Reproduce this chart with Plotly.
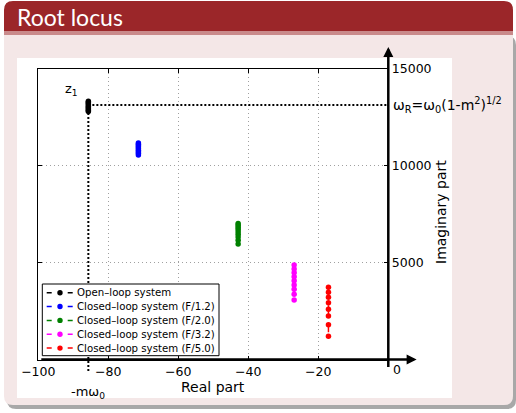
import plotly.graph_objects as go

W, H = 516, 413

# ---------------- data ----------------
series_names = ["Open\u2013loop system",
                "Closed\u2013loop system (F/1.2)",
                "Closed\u2013loop system (F/2.0)",
                "Closed\u2013loop system (F/3.2)",
                "Closed\u2013loop system (F/5.0)"]
series_colors = ["#000000", "#0000ff", "#008000", "#ff00ff", "#ff0000"]
series_real = [-85.7, -71.4, -42.9, -26.9, -17.1]
open_imag = [13330, 13265, 13200, 13135, 13070, 13005, 12940, 12875, 12810]
f12_imag = [11180, 11110, 11040, 10970, 10890, 10810, 10730, 10650, 10565]
f20_imag = [7025, 6930, 6830, 6720, 6600, 6470, 6330, 6160, 5970]
f32_imag = [4880, 4675, 4485, 4275, 4070, 3850, 3625, 3370, 3075]
f50_imag = [3730, 3470, 3215, 2935, 2595, 2245, 1800, 1200]
series_imag = [open_imag, f12_imag, f20_imag, f32_imag, f50_imag]

omega_r = 13146          # resonance line level
x_ticks = [-100, -80, -60, -40, -20]
y_ticks = [5000, 10000, 15000]
x_range = [-100, 0]
y_range = [0, 15000]

# ---------------- geometry helpers ----------------
def px(x):
    return x / W

def py(y):
    return 1 - y / H

XDOM = [px(38.3), px(388.3)]
YDOM = [py(359.5), py(69)]

def yval_to_paper(v):
    return YDOM[0] + (v - y_range[0]) / (y_range[1] - y_range[0]) * (YDOM[1] - YDOM[0])

def rrect(x0, y0, x1, y1, r, top=True, bottom=True):
    rt = r if top else 0
    rb = r if bottom else 0
    pts = []
    pts.append(f"M{px(x0 + rt)},{py(y0)}")
    pts.append(f"L{px(x1 - rt)},{py(y0)}")
    if rt:
        pts.append(f"Q{px(x1)},{py(y0)} {px(x1)},{py(y0 + rt)}")
    pts.append(f"L{px(x1)},{py(y1 - rb)}")
    if rb:
        pts.append(f"Q{px(x1)},{py(y1)} {px(x1 - rb)},{py(y1)}")
    pts.append(f"L{px(x0 + rb)},{py(y1)}")
    if rb:
        pts.append(f"Q{px(x0)},{py(y1)} {px(x0)},{py(y1 - rb)}")
    pts.append(f"L{px(x0)},{py(y0 + rt)}")
    if rt:
        pts.append(f"Q{px(x0)},{py(y0)} {px(x0 + rt)},{py(y0)}")
    pts.append("Z")
    return " ".join(pts)

FONT = "DejaVu Sans"

fig = go.Figure()

# ---------------- data traces ----------------
for name, color, xr, im in zip(series_names, series_colors, series_real, series_imag):
    fig.add_trace(go.Scatter(
        x=[xr] * len(im), y=im, mode="lines+markers", name=name,
        line=dict(color=color, width=1.5, dash="dash"),
        marker=dict(color=color, size=5.5),
        cliponaxis=False, showlegend=False))

# horizontal dotted line for omega_R
fig.add_trace(go.Scatter(
    x=[series_real[0], 0], y=[omega_r, omega_r], mode="lines",
    line=dict(color="black", width=2, dash="2px,2px"), showlegend=False))

shapes = []
# slide background
shapes.append(dict(type="path", xref="paper", yref="paper", layer="below",
                   path=rrect(7, 36, 516, 409, 9), fillcolor="#a8a8a8", line=dict(width=0)))
shapes.append(dict(type="path", xref="paper", yref="paper", layer="below",
                   path=rrect(4, 33, 513, 405, 9, top=False), fillcolor="#f4e7e7", line=dict(width=0)))
shapes.append(dict(type="path", xref="paper", yref="paper", layer="below",
                   path=rrect(4, 1, 513, 33, 9, bottom=False), fillcolor="#9b2629", line=dict(width=0)))
shapes.append(dict(type="rect", xref="paper", yref="paper", layer="below",
                   x0=px(4), x1=px(513), y0=py(31), y1=py(35),
                   fillcolor="#c98a8b", line=dict(width=0)))
shapes.append(dict(type="rect", xref="paper", yref="paper", layer="below",
                   x0=px(17), x1=px(452), y0=py(58), y1=py(398),
                   fillcolor="white", line=dict(width=0)))
# vertical dotted line -m*omega0
shapes.append(dict(type="line", xref="x", yref="paper",
                   x0=series_real[0], x1=series_real[0],
                   y0=py(371), y1=yval_to_paper(min(open_imag)),
                   line=dict(color="black", width=2, dash="2px,2px")))

# manual legend
lx0, lx1, ly0, ly1 = 42.3, 219, 284, 355.7
shapes.append(dict(type="rect", xref="paper", yref="paper",
                   x0=px(lx0), x1=px(lx1), y0=py(ly0), y1=py(ly1),
                   fillcolor="white", line=dict(color="black", width=1)))
annotations = []
for i, (name, color) in enumerate(zip(series_names, series_colors)):
    yc = 292.7 + 13.85 * i
    shapes.append(dict(type="line", xref="paper", yref="paper",
                       x0=px(46.7), x1=px(72.7), y0=py(yc), y1=py(yc),
                       line=dict(color=color, width=1.5, dash="5px,16px")))
    r = 2.7
    shapes.append(dict(type="circle", xref="paper", yref="paper",
                       x0=px(60 - r), x1=px(60 + r), y0=py(yc - r), y1=py(yc + r),
                       fillcolor=color, line=dict(color=color, width=0)))
    annotations.append(dict(xref="paper", yref="paper", x=px(75), y=py(yc),
                            xanchor="left", yanchor="middle", showarrow=False,
                            text=name, font=dict(family=FONT, size=10.2, color="black")))

# axis arrows
annotations.append(dict(xref="x", yref="y", axref="x", ayref="y",
                        x=8.1, y=0, ax=-100, ay=0, text=" ", showarrow=True,
                        arrowhead=2, arrowsize=0.8, arrowwidth=2.5, arrowcolor="black"))
annotations.append(dict(xref="x", yref="paper", axref="pixel", ayref="pixel",
                        x=0, y=py(47), ax=0, ay=330, text=" ", showarrow=True,
                        arrowhead=2, arrowsize=0.8, arrowwidth=2.5, arrowcolor="black"))

# texts
annotations += [
    dict(xref="paper", yref="paper", x=px(15), y=py(17), xanchor="left", yanchor="middle",
         showarrow=False, text="Root locus", font=dict(family="Lato", size=23, color="white")),
    dict(xref="x", yref="y", x=0, y=omega_r, xanchor="left", yanchor="middle", xshift=3,
         showarrow=False, text="ω<sub>R</sub>=ω<sub>0</sub>(1-m<sup>2</sup>)<sup>1/2</sup>",
         font=dict(family=FONT, size=14, color="black")),
    dict(xref="x", yref="y", x=-90.4, y=13920, xanchor="center", yanchor="middle",
         showarrow=False, text="z<sub>1</sub>",
         font=dict(family=FONT, size=13, color="black")),
    dict(xref="x", yref="paper", x=series_real[0], y=py(392), xanchor="center",
         yanchor="middle", showarrow=False,
         text="-mω<sub>0</sub>", font=dict(family=FONT, size=13, color="black")),
    dict(xref="x", yref="paper", x=0, y=py(369), xanchor="left", yanchor="middle",
         xshift=3, showarrow=False,
         text="0", font=dict(family=FONT, size=12.5, color="black")),
    dict(xref="paper", yref="paper", x=px(213), y=py(386.5), xanchor="center",
         yanchor="middle", showarrow=False,
         text="Real part", font=dict(family=FONT, size=14, color="black")),
    dict(xref="paper", yref="paper", x=px(441), y=py(212), xanchor="center",
         yanchor="middle", showarrow=False, textangle=-90,
         text="Imaginary part", font=dict(family=FONT, size=14, color="black")),
]

axis_common = dict(showline=True, linecolor="black", linewidth=1, mirror="allticks",
                   ticks="inside", ticklen=4, tickcolor="black", tickwidth=1,
                   showgrid=True, gridcolor="#a0a0a0", gridwidth=1, griddash="1px,3px",
                   zeroline=False, automargin=False, tickformat="d",
                   tickfont=dict(family=FONT, size=12.5, color="black"))

fig.update_layout(
    width=W, height=H, margin=dict(l=0, r=0, t=0, b=0, pad=0, autoexpand=False),
    paper_bgcolor="white", plot_bgcolor="rgba(0,0,0,0)",
    xaxis=dict(domain=XDOM, range=x_range, tickvals=x_ticks, **axis_common),
    yaxis=dict(domain=YDOM, range=y_range, tickvals=y_ticks, side="right", **axis_common),
    shapes=shapes, annotations=annotations, showlegend=False,
)

fig.write_html("out.html", include_plotlyjs=True, full_html=True,
               default_width="516px", default_height="413px",
               config={"displayModeBar": False},
               post_script="document.body.style.margin='0px';document.body.style.overflow='hidden';")
